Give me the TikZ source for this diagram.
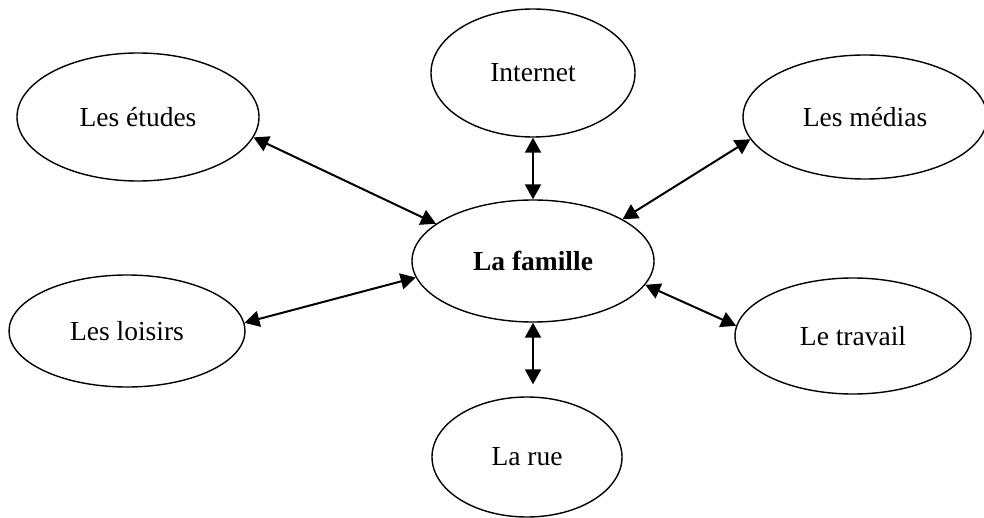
\documentclass[tikz,border=0pt]{standalone}
\usepackage{fontspec}
\setmainfont{Liberation Serif}
\usetikzlibrary{shapes.geometric,arrows.meta}

\begin{document}
\begin{tikzpicture}[
  x=0.5pt, y=-0.5pt,
  topic/.style={draw, ellipse, line width=0.7pt, inner sep=0pt,
    font=\fontsize{13.75}{16}\selectfont},
  link/.style={line width=1pt,
    {Triangle[length=7.5pt,width=8pt]}-{Triangle[length=7.5pt,width=8pt]}}
]

\useasboundingbox (0,0) rectangle (984,518);

\node [topic, minimum width=121pt, minimum height=61pt] (famille) at (533,261) {\textbf{La famille}};

\node [topic, minimum width=121pt, minimum height=64pt] (etudes) at (138,117) {Les études};
\node [topic, minimum width=102pt, minimum height=64pt] (internet) at (533,73) {Internet};
\node [topic, minimum width=122pt, minimum height=62pt] (medias) at (865,117) {Les médias};
\node [topic, minimum width=118pt, minimum height=56pt] (loisirs) at (127,331) {Les loisirs};
\node [topic, minimum width=118pt, minimum height=58pt] (travail) at (853,336) {Le travail};
\node [topic, minimum width=95pt, minimum height=60pt] (rue) at (527,457) {La rue};

\draw [link] (etudes.-10) -- (famille.159);
\draw [link] (internet.south) -- (famille.north);
\draw [link] (medias.-169) -- (famille.25);
\draw [link] (loisirs.4) -- (famille.-172);
\draw [link] (famille.-12) -- (travail.175);
\draw [link, shorten >=6pt] (famille.south) -- (famille.south |- rue.north);

\end{tikzpicture}
\end{document}
